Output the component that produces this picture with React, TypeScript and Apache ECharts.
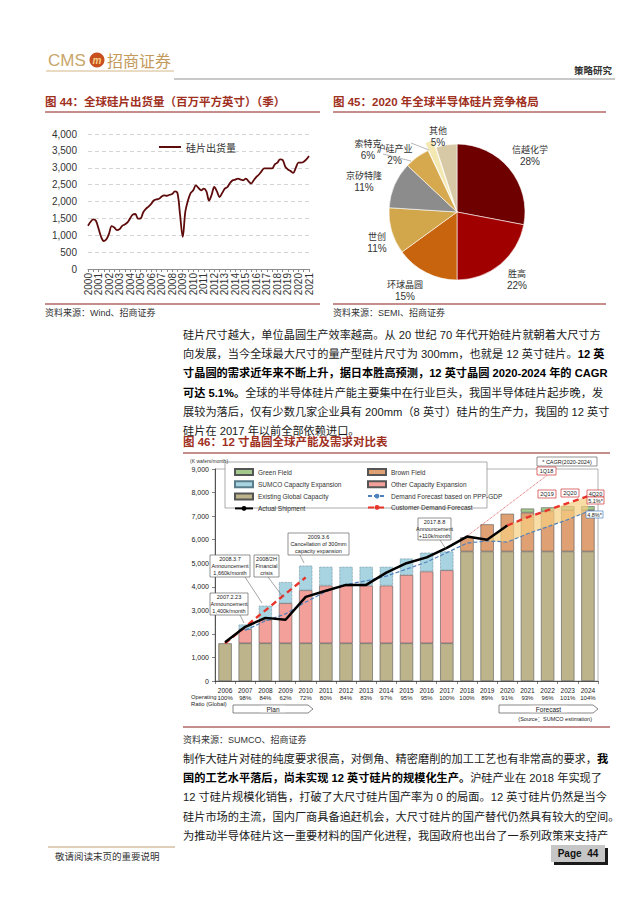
import React, { useEffect, useRef } from 'react';
import * as echarts from 'echarts';

const CJK = "'Noto Sans CJK SC', sans-serif";
const LAT = "'Liberation Sans', Arial, 'Noto Sans CJK SC', sans-serif";

// ---------- Figure 44 data ----------
const years44 = ['2000','2001','2002','2003','2004','2005','2006','2007','2008','2009','2010','2011','2012','2013','2014','2015','2016','2017','2018','2019','2020','2021'];
const shipment44 = [
  1280, 1400, 1470, 1430,
  1200, 950, 830, 880,
  1050, 1270, 1230, 1150,
  1180, 1280, 1320, 1380,
  1500, 1610, 1630, 1490,
  1500, 1680, 1780, 1850,
  1930, 2030, 2060, 2080,
  2150, 2180, 2170, 2200,
  2220, 2300, 2250, 1600,
  950, 1700, 2030, 2250,
  2330, 2480, 2400, 2330,
  2380, 2300, 2030, 2200,
  2430, 2300, 2130, 2250,
  2380, 2430, 2550, 2630,
  2650, 2680, 2650, 2630,
  2680, 2600, 2530, 2630,
  2730, 2800, 2900, 2980,
  2980, 2980, 2980, 3100,
  3150, 3250, 3230, 3030,
  2950, 2900, 2850, 3000,
  3150, 3150, 3180, 3250,
  3350,
];
const quarterNames = ['Q1', 'Q2', 'Q3', 'Q4'];
const quarters44: string[] = [];
years44.forEach((y) => quarterNames.forEach((q) => quarters44.push(y + q)));
const categories44 = quarters44.slice(0, shipment44.length);

// ---------- Figure 45 data ----------
const pieNames = ['信越化学', '胜高', '环球晶圆', '世创', '京矽特隆', '索特克', '沪硅产业', '其他'];
const pieValues = [28, 22, 15, 11, 11, 6, 2, 5];
const pieColors = ['#6E0000', '#A00000', '#C8640E', '#D2A64A', '#8C8C8C', '#D6A94F', '#F3E8B2', '#D8C9A6'];
const pieLabelPos = [[530, 155], [517, 279], [405, 290], [377, 242], [364, 181], [368, 149], [402, 136], [438, 136]];

// ---------- Figure 46 data ----------
const years46 = ['2006','2007','2008','2009','2010','2011','2012','2013','2014','2015','2016','2017','2018','2019','2020','2021','2022','2023','2024'];
const ratios46 = ['100%','98%','84%','62%','72%','80%','84%','83%','97%','95%','95%','100%','100%','89%','91%','93%','96%','101%','104%'];
const existingCap = [1600,1600,1600,1600,1600,1600,1600,1600,1600,1600,1600,1600,5500,5500,5500,5500,5500,5500,5500];
const otherExp = [null,600,1000,1700,2250,2450,2450,2450,2450,2900,3050,3100,null,null,null,null,null,null,null];
const sumcoExp = [null,200,600,900,1050,800,800,800,800,700,800,800,null,null,null,null,null,null,null];
const brownField = [null,null,null,null,null,null,null,null,null,null,null,null,600,1150,1600,1650,1700,1750,1750];
const greenField = [null,null,null,null,null,null,null,null,null,null,null,null,null,null,null,170,170,170,170];
const actualShip = [1650,2300,2680,2600,3570,3830,4080,4080,4600,5000,5250,5650,6130,6000,6600,null,null,null,null];
const pppDemand = [null,2150,2550,2850,3350,3800,4100,4250,4450,4750,5050,5450,5850,5950,5900,6250,6550,6850,7200];
const customerEarly = [1600,2300,3000,3700,4400,null,null,null,null,null,null,null,null,null,null,null,null,null,null];
const customerLate = [null,null,null,null,null,null,null,null,null,null,null,null,null,null,6600,6950,7250,7550,7850];
const forecast1Q18 = [null,null,null,null,null,null,null,null,null,null,null,5650,6150,6800,7450,8100,8750,null,null];
const bandTop = [null,null,null,null,null,null,null,null,null,null,null,null,null,6000,6600,6950,7250,7550,7850];
const bandBottom = pppDemand.map((v, i) => (bandTop[i] == null ? null : v));
const bandDiff = bandTop.map((v, i) => (v == null || bandBottom[i] == null ? null : v - (bandBottom[i] as number)));

// ---------- text ----------
const para1 = [
  '硅片尺寸越大，单位晶圆生产效率越高。从 20 世纪 70 年代开始硅片就朝着大尺寸方',
  '向发展，当今全球最大尺寸的量产型硅片尺寸为 300mm，也就是 12 英寸硅片。{b|12 英}',
  '{b|寸晶圆的需求近年来不断上升，据日本胜高预测，12 英寸晶圆 2020-2024 年的 CAGR}',
  '{b|可达 5.1%。}全球的半导体硅片产能主要集中在行业巨头，我国半导体硅片起步晚，发',
  '展较为落后，仅有少数几家企业具有 200mm（8 英寸）硅片的生产力，我国的 12 英寸',
  '硅片在 2017 年以前全部依赖进口。',
];
const para2 = [
  '制作大硅片对硅的纯度要求很高，对倒角、精密磨削的加工工艺也有非常高的要求，{b|我}',
  '{b|国的工艺水平落后，尚未实现 12 英寸硅片的规模化生产。}沪硅产业在 2018 年实现了',
  '12 寸硅片规模化销售，打破了大尺寸硅片国产率为 0 的局面。12 英寸硅片仍然是当今',
  '硅片市场的主流，国内厂商具备追赶机会，大尺寸硅片的国产替代仍然具有较大的空间。',
  '为推动半导体硅片这一重要材料的国产化进程，我国政府也出台了一系列政策来支持产',
];

const TITLE_RED = '#A0301E';
const LINE_RED = '#8B1E1A';

function txt(x: number, y: number, text: string, o: any = {}, z = 100) {
  return {
    type: 'text', x, y, z,
    style: { text, fontSize: 11, fill: '#222', fontFamily: LAT, align: 'left', verticalAlign: 'middle', ...o },
  };
}
function ln(x1: number, y1: number, x2: number, y2: number, stroke: string, lineWidth = 1, extra: any = {}) {
  return { type: 'line', z: 100, shape: { x1, y1, x2, y2 }, style: { stroke, lineWidth, ...extra } };
}
function box(x: number, y: number, w: number, h: number, text: string, stroke = '#666', fs = 5.5, color = '#222') {
  return [
    { type: 'rect', z: 110, shape: { x, y, width: w, height: h }, style: { fill: '#fff', stroke, lineWidth: 0.7 } },
    { type: 'text', z: 111, x: x + w / 2, y: y + h / 2, style: { text, fontSize: fs, lineHeight: fs + 1.6, fill: color, align: 'center', verticalAlign: 'middle', fontFamily: LAT } },
  ];
}
function para(lines: string[], y0: number, step: number) {
  return lines.map((t, i) =>
    txt(183, y0 + i * step, t, {
      fontSize: 11.2, fill: '#1a1a1a',
      rich: { b: { fontSize: 11.2, fontWeight: 'bold', fontFamily: LAT, fill: '#000' } },
    })
  );
}
function arrowShape(x1: number, x2: number, y: number, label: string) {
  return [
    { type: 'polygon', z: 100, shape: { points: [[x1, y - 4], [x2 - 5, y - 4], [x2, y], [x2 - 5, y + 4], [x1, y + 4]] }, style: { fill: '#fff', stroke: '#555', lineWidth: 0.7 } },
    { type: 'text', z: 101, x: (x1 + x2) / 2, y, style: { text: label, fontSize: 6.5, fill: '#222', align: 'center', verticalAlign: 'middle', fontFamily: LAT, backgroundColor: '#fff', padding: [0, 6] } },
  ];
}

export default function App() {
  const ref = useRef<HTMLDivElement>(null);
  useEffect(() => {
    if (!ref.current) return;
    const chart = echarts.init(ref.current, undefined, { renderer: 'svg' });
    const fmt = (v: number) => v.toLocaleString('en-US');

    const graphic: any[] = [
      // header
      txt(48, 60, 'CMS', { fontSize: 17, fill: '#C9A66B', fontFamily: LAT }),
      { type: 'circle', z: 100, shape: { cx: 97, cy: 60, r: 7.5 }, style: { fill: '#C8501E' } },
      txt(97, 60, 'm', { fontSize: 10, fill: '#F6D08A', fontWeight: 'bold', fontStyle: 'italic', align: 'center' }, 101),
      txt(107, 60, '招商证券', { fontSize: 16, fill: '#C49A5A', fontFamily: CJK }),
      ln(46, 71, 174, 71, '#C9A66B', 0.8),
      ln(174, 79, 615, 79, '#777', 0.8),
      txt(612, 70, '策略研究', { fontSize: 9.5, fontWeight: 'bold', fill: '#333', align: 'right', fontFamily: CJK }),
      // fig 44
      txt(45, 102, '图 44：全球硅片出货量（百万平方英寸）（季）', { fontSize: 11.5, fontWeight: 'bold', fill: TITLE_RED }),
      ln(45, 112, 320, 112, LINE_RED, 1.2),
      ln(45, 304, 320, 304, LINE_RED, 1.2),
      txt(45, 313, '资料来源：Wind、招商证券', { fontSize: 9, fill: '#333' }),
      // fig 45
      txt(333, 102, '图 45：2020 年全球半导体硅片竞争格局', { fontSize: 11.5, fontWeight: 'bold', fill: TITLE_RED }),
      ln(333, 112, 606, 112, LINE_RED, 1.2),
      ln(333, 304, 606, 304, LINE_RED, 1.2),
      txt(333, 313, '资料来源：SEMI、招商证券', { fontSize: 9, fill: '#333' }),
      ln(383, 154, 411, 161, '#999', 0.7),
      ln(411, 143, 429, 150, '#999', 0.7),
      // paragraph 1
      ...para(para1, 335, 19.2),
      // fig 46
      txt(183, 442, '图 46：12 寸晶圆全球产能及需求对比表', { fontSize: 11.5, fontWeight: 'bold', fill: TITLE_RED }),
      ln(183, 453, 610, 453, LINE_RED, 1.2),
      txt(190, 461, '(K wafers/month)', { fontSize: 5, fill: '#333' }),
      { type: 'rect', z: 3, shape: { x: 225, y: 462, width: 262, height: 46 }, style: { fill: '#fff', stroke: '#888', lineWidth: 0.7 } },
      ...box(210, 555, 40, 22, '2008.3.7\nAnnouncement\n1,660k/month'),
      ...box(254, 555, 25, 22, '2008/2H\nFinancial\ncrisis'),
      ...box(288, 533, 61, 22, '2009.3.6\nCancellation of 300mm\ncapacity expansion'),
      ...box(210, 593, 38, 22, '2007.2.23\nAnnouncement\n1,400k/month'),
      ...box(418, 518, 33, 22, '2017.8.8\nAnnouncement\n+110k/month'),
      ...box(537, 457, 60, 9, '* CAGR(2020-2024)'),
      ...box(537, 467, 19, 8, '1Q18', '#D03030'),
      ...box(538, 490, 18, 8, '2Q19', '#D03030'),
      ...box(561, 489, 18, 8, '2Q20', '#D03030'),
      ...box(587, 490, 17, 7, '4Q20', '#D03030'),
      ...box(587, 497, 17, 7, '5.1%*', '#D03030'),
      ...box(586, 511, 17, 7, '4.8%*', '#4F81BD'),
      ln(240, 615, 244, 623, '#666', 0.6),
      ln(245, 577, 262, 603, '#666', 0.6),
      ln(268, 577, 283, 597, '#666', 0.6),
      ln(300, 555, 304, 563, '#666', 0.6),
      ln(440, 540, 446, 549, '#666', 0.6),
      txt(191, 697, 'Operating', { fontSize: 5.8, fill: '#222' }),
      txt(191, 704, 'Ratio (Global)', { fontSize: 5.8, fill: '#222' }),
      ...arrowShape(233, 313, 709, 'Plan'),
      ...arrowShape(499, 598, 709, 'Forecast'),
      txt(592, 719, '(Source：SUMCO estimation)', { fontSize: 5.5, fill: '#222', align: 'right' }),
      ln(183, 727, 610, 727, LINE_RED, 1.2),
      txt(183, 740, '资料来源：SUMCO、招商证券', { fontSize: 9, fill: '#333' }),
      // paragraph 2
      ...para(para2, 759, 19.2),
      // footer
      ln(48, 847, 175, 847, '#B08850', 0.8),
      txt(55, 856, '敬请阅读末页的重要说明', { fontSize: 9.5, fill: '#333', fontFamily: CJK }),
      { type: 'rect', z: 120, shape: { x: 554, y: 848, width: 54, height: 17 }, style: { fill: '#1a1a1a' } },
      { type: 'rect', z: 121, shape: { x: 551, y: 845, width: 54, height: 17 }, style: { fill: '#C6C6C6' } },
      txt(578, 853.5, 'Page  44', { fontSize: 10, fontWeight: 'bold', fill: '#111', align: 'center' }, 122),
    ];

    const barBase = { type: 'bar', xAxisIndex: 1, yAxisIndex: 1, stack: 'cap', barWidth: '66%' };
    const lineBase = { type: 'line', xAxisIndex: 1, yAxisIndex: 1, symbol: 'none', z: 5 };

    chart.setOption({
      animation: false,
      backgroundColor: '#fff',
      textStyle: { fontFamily: LAT },
      grid: [
        { left: 88, top: 134, width: 221, height: 135 },
        { left: 215, top: 469, width: 383, height: 212, show: true, borderColor: '#a0a0a0', borderWidth: 0.8 },
      ],
      legend: [
        {
          data: [{ name: '硅片出货量', icon: 'rect' }], left: 154, top: 137, itemWidth: 22, itemHeight: 2,
          selectedMode: false, textStyle: { fontSize: 10, color: '#333', fontFamily: CJK },
        },
        {
          data: [
            { name: 'Green Field', icon: 'rect' },
            { name: 'SUMCO Capacity Expansion', icon: 'rect' },
            { name: 'Existing Global Capacity', icon: 'rect' },
            { name: 'Actual Shipment' },
          ],
          orient: 'vertical', left: 229, top: 463, itemWidth: 18, itemHeight: 6, itemGap: 4.3,
          selectedMode: false, textStyle: { fontSize: 6.5, color: '#333', lineHeight: 7 },
        },
        {
          data: [
            { name: 'Brown Field', icon: 'rect' },
            { name: 'Other Capacity Expansion', icon: 'rect' },
            { name: 'Demand Forecast based on PPP-GDP' },
            { name: 'Customer Demand Forecast' },
          ],
          orient: 'vertical', left: 362, top: 463, itemWidth: 18, itemHeight: 6, itemGap: 4.3,
          selectedMode: false, textStyle: { fontSize: 6.5, color: '#333', lineHeight: 7 },
        },
      ],
      xAxis: [
        {
          type: 'category', gridIndex: 0, data: categories44, boundaryGap: false,
          axisLine: { lineStyle: { color: '#8c8c8c' } },
          axisTick: { show: true, interval: 1, length: 3, lineStyle: { color: '#8c8c8c' } },
          axisLabel: { interval: 3, rotate: 90, fontSize: 10, color: '#333', margin: 4, formatter: (v: string) => v.slice(0, 4) },
        },
        {
          type: 'category', gridIndex: 1, data: years46,
          axisLine: { lineStyle: { color: '#333', width: 0.8 } },
          axisTick: { show: true, length: 3, lineStyle: { color: '#333', width: 0.6 } },
          axisLabel: {
            interval: 0, margin: 5,
            formatter: (v: string, i: number) => `{y|${v}}\n{p|${ratios46[i]}}`,
            rich: { y: { fontSize: 6.5, color: '#222', lineHeight: 8 }, p: { fontSize: 6, color: '#222', lineHeight: 8 } },
          },
        },
      ],
      yAxis: [
        {
          type: 'value', gridIndex: 0, min: 0, max: 4000, interval: 500,
          axisLine: { show: false }, axisTick: { show: false },
          splitLine: { lineStyle: { color: '#d4d4d4', type: [4, 3] } },
          axisLabel: { fontSize: 10, color: '#333', margin: 11, formatter: fmt },
        },
        {
          type: 'value', gridIndex: 1, min: 0, max: 9000, interval: 1000,
          axisLine: { show: true, lineStyle: { color: '#333', width: 0.8 } },
          axisTick: { show: true, length: 3, lineStyle: { color: '#333', width: 0.6 } },
          splitLine: { show: false },
          axisLabel: { fontSize: 7, color: '#222', margin: 6, formatter: fmt },
        },
      ],
      series: [
        {
          name: '硅片出货量', type: 'line', xAxisIndex: 0, yAxisIndex: 0, data: shipment44,
          showSymbol: false, symbol: 'none', smooth: 0.35,
          lineStyle: { color: '#5E0B0B', width: 1.8 }, itemStyle: { color: '#5E0B0B' },
        },
        {
          name: 'share', type: 'pie', center: [457, 212], radius: 68, startAngle: 90, clockwise: true,
          selectedMode: 'single', selectedOffset: 8,
          data: pieNames.map((n, i) => ({
            name: n, value: pieValues[i], selected: n === '沪硅产业',
            itemStyle: { color: pieColors[i] },
            labelLine: { show: n === '沪硅产业' || n === '索特克', length: 6, length2: 4, lineStyle: { opacity: 0 } },
          })),
          itemStyle: { borderColor: '#fff', borderWidth: 0.6 },
          label: {
            show: true, position: 'outside', formatter: '{n|{b}}\n{p|{c}%}',
            rich: {
              n: { fontSize: 9, color: '#333', fontFamily: CJK, lineHeight: 12, align: 'center' },
              p: { fontSize: 10, color: '#333', fontFamily: LAT, lineHeight: 12, align: 'center' },
            },
          },
          labelLayout: (p: any) => {
            const pos = pieLabelPos[p.dataIndex];
            return { x: pos[0], y: pos[1], align: 'center', verticalAlign: 'middle' };
          },
          emphasis: { disabled: true },
        },
        { ...barBase, name: 'Existing Global Capacity', data: existingCap, itemStyle: { color: '#BDB48C', borderColor: '#555', borderWidth: 0.6 } },
        { ...barBase, name: 'Other Capacity Expansion', data: otherExp, itemStyle: { color: '#F4A09A', borderColor: '#555', borderWidth: 0.6 } },
        { ...barBase, name: 'SUMCO Capacity Expansion', data: sumcoExp, itemStyle: { color: '#A8D4E2', borderColor: '#5a7d8c', borderWidth: 0.7, borderType: 'dotted' } },
        { ...barBase, name: 'Brown Field', data: brownField, itemStyle: { color: '#DFA073', borderColor: '#555', borderWidth: 0.6 } },
        { ...barBase, name: 'Green Field', data: greenField, itemStyle: { color: '#A3C98C', borderColor: '#555', borderWidth: 0.6 } },
        { ...lineBase, name: 'bandLow', stack: 'band', data: bandBottom, lineStyle: { opacity: 0 }, z: 3 },
        { ...lineBase, name: 'bandFill', stack: 'band', data: bandDiff, lineStyle: { opacity: 0 }, areaStyle: { color: '#F7CF80', opacity: 0.7 }, z: 3 },
        { ...lineBase, name: 'Demand Forecast based on PPP-GDP', data: pppDemand, lineStyle: { color: '#4F81BD', width: 1.2, type: [4, 2] }, itemStyle: { color: '#4F81BD' } },
        { ...lineBase, name: '1Q18', data: forecast1Q18, lineStyle: { color: '#D94A4A', width: 0.9, type: 'dotted' }, itemStyle: { color: '#D94A4A' } },
        { ...lineBase, name: 'Customer Demand Forecast', data: customerEarly, lineStyle: { color: '#E8352B', width: 2.4, type: [6, 4] }, itemStyle: { color: '#E8352B' } },
        { ...lineBase, name: 'Customer Demand Forecast', data: customerLate, lineStyle: { color: '#E8352B', width: 2.4, type: [6, 4] }, itemStyle: { color: '#E8352B' } },
        { ...lineBase, name: 'Actual Shipment', data: actualShip, lineStyle: { color: '#000', width: 2.5 }, itemStyle: { color: '#000' }, z: 6 },
      ],
      graphic,
    });
    return () => chart.dispose();
  }, []);
  return (
    <div
      ref={ref}
      style={{ position: 'absolute', left: 0, top: 0, width: 640, height: 905, background: '#fff' }}
    />
  );
}
